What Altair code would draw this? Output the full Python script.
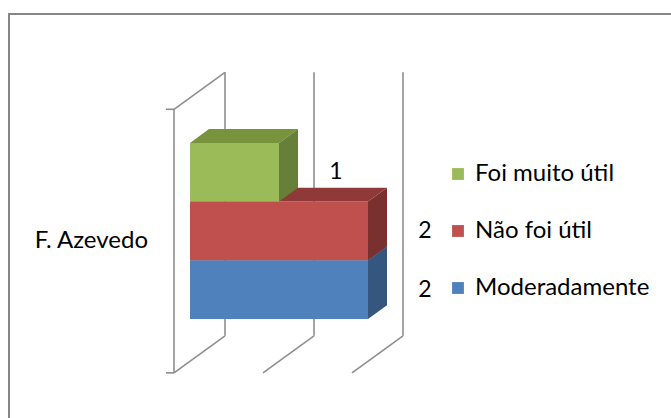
import altair as alt
import pandas as pd

# ---------------- data ----------------
categories = ["F. Azevedo"]
series = ["Moderadamente", "Não foi útil", "Foi muito útil"]      # bottom -> top
values = [2, 2, 1]
legend_order = ["Foi muito útil", "Não foi útil", "Moderadamente"]
value_ticks = [0, 1, 2]
front_colors = ["#4F81BD", "#C0504D", "#9BBB59"]
top_colors = ["#3D6596", "#8F3A38", "#77933C"]
side_colors = ["#34567F", "#7A302E", "#66803A"]

# ---------------- geometry (3-D projection settings) ----------------
W, H = 671, 418
PX_PER_VAL, PX_PER_LVL = 89.0, 58.7
X0_PX, Y0_PX = 190.0, 319.0
XDOM = [(0 - X0_PX) / PX_PER_VAL, (W - X0_PX) / PX_PER_VAL]
YDOM = [(Y0_PX - H) / PX_PER_LVL, Y0_PX / PX_PER_LVL]
DX = 51 / PX_PER_VAL          # depth shift (value units)
DY = 37 / PX_PER_LVL          # depth shift (level units)
D0, D1 = 16 / 51, 35 / 51     # bar depth span
FLOOR, CEIL = -0.72, 3.77     # category band (levels)
BDX, BDY = (D1 - D0) * DX, (D1 - D0) * DY


def proj(v, l, d):
    return v + (d - D0) * DX, l + (d - D0) * DY


# bar faces
rows = []
for i, (s, v) in enumerate(zip(series, values)):
    lo, hi = i, i + 1
    for x, y, y2 in [(0, lo, hi), (v, lo, hi)]:
        rows.append(dict(series=s, key=s, x=x, y=y, y2=y2))
    k = s + " top"
    for x, y, y2 in [(0, hi, hi), (BDX, hi, hi + BDY), (v, hi, hi + BDY), (v + BDX, hi + BDY, hi + BDY)]:
        rows.append(dict(series=s, key=k, x=x, y=y, y2=y2))
    k = s + " side"
    for x, y, y2 in [(v, lo, hi), (v + BDX, lo + BDY, hi + BDY)]:
        rows.append(dict(series=s, key=k, x=x, y=y, y2=y2))
bars = pd.DataFrame(rows)

keys = series + [s + " top" for s in series] + [s + " side" for s in series]
key_colors = front_colors + top_colors + side_colors

# wall / grid lines
lines = []
for v in value_ticks:
    (xa, ya), (xb, yb) = proj(v, FLOOR, 1), proj(v, CEIL, 1)
    lines.append(dict(x=xa, y=ya, x2=xb, y2=yb))
    (xa, ya), (xb, yb) = proj(v, FLOOR, 0), proj(v, FLOOR, 1)
    lines.append(dict(x=xa, y=ya, x2=xb, y2=yb))
(xa, ya), (xb, yb) = proj(0, FLOOR, 0), proj(0, CEIL, 0)
lines.append(dict(x=xa, y=ya, x2=xb, y2=yb))
(xa, ya), (xb, yb) = proj(0, CEIL, 0), proj(0, CEIL, 1)
lines.append(dict(x=xa, y=ya, x2=xb, y2=yb))
TICK = 8 / PX_PER_VAL
for lvl in [FLOOR, CEIL]:
    xa, ya = proj(0, lvl, 0)
    lines.append(dict(x=xa - TICK, y=ya, x2=xa, y2=ya))
lines = pd.DataFrame(lines)

labels = pd.DataFrame(dict(
    x=[v + BDX for v in values],
    y=[i + 0.5 for i in range(len(series))],
    text=[str(v) for v in values],
))
cx, cy = proj(0, (FLOOR + CEIL) / 2, 0)
cat = pd.DataFrame(dict(x=[cx], y=[cy], text=categories))

xs = alt.Scale(domain=XDOM, nice=False, zero=False)
ys = alt.Scale(domain=YDOM, nice=False, zero=False)
noax = None

frame = alt.Chart(pd.DataFrame({"a": [0]})).mark_rect(
    filled=False, stroke="#868686", strokeWidth=2
).encode(x=alt.value(9), x2=alt.value(W + 20), y=alt.value(14), y2=alt.value(H + 20))

grid = alt.Chart(lines).mark_rule(color="#8E8E8E", strokeWidth=1.6).encode(
    x=alt.X("x:Q", scale=xs, axis=noax), y=alt.Y("y:Q", scale=ys, axis=noax),
    x2="x2:Q", y2="y2:Q",
)

color = alt.Color(
    "key:N",
    scale=alt.Scale(domain=keys, range=key_colors),
    legend=alt.Legend(
        title=None, orient="none", legendX=446, legendY=162, values=legend_order,
        symbolType="square", symbolSize=140, symbolStrokeWidth=0,
        labelFont="Lato", labelFontSize=24, labelColor="#000000", labelLimit=400,
        labelOffset=5, rowPadding=33, padding=0,
    ),
)

bar_layers = []
for s in series:
    bar_layers.append(
        alt.Chart(bars).transform_filter(alt.datum.series == s).mark_area(
            orient="vertical", interpolate="linear"
        ).encode(
            x=alt.X("x:Q", scale=xs, axis=noax),
            y=alt.Y("y:Q", scale=ys, axis=noax, stack=None),
            y2="y2:Q",
            color=color,
            detail="key:N",
        )
    )

val_text = alt.Chart(labels).mark_text(
    font="Lato", fontSize=23, align="center", baseline="middle", dx=38, color="#000000"
).encode(x=alt.X("x:Q", scale=xs, axis=noax), y=alt.Y("y:Q", scale=ys, axis=noax), text="text:N")

cat_text = alt.Chart(cat).mark_text(
    font="Lato", fontSize=24, align="right", baseline="middle", dx=-26, color="#000000"
).encode(x=alt.X("x:Q", scale=xs, axis=noax), y=alt.Y("y:Q", scale=ys, axis=noax), text="text:N")

chart = alt.layer(frame, grid, *bar_layers, val_text, cat_text).properties(
    width=W, height=H, padding=0, autosize=alt.AutoSizeParams(type="none"),
    background="#FFFFFF",
).configure_view(stroke=None)

chart.save("out.html", embed_options={"renderer": "svg", "actions": False})
